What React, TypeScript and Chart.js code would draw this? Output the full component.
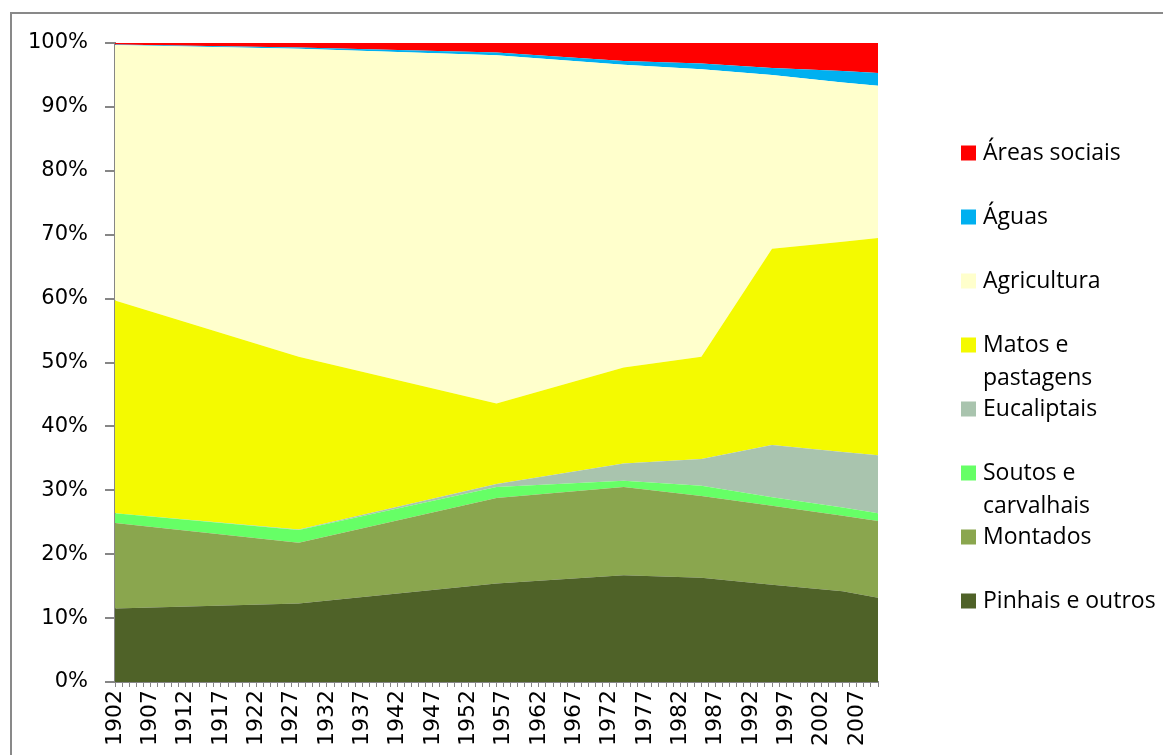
import React, { useEffect, useRef } from 'react';
import { Chart, registerables } from 'chart.js';

Chart.register(...registerables);

// Key years (share of area, %)
const years = [1902, 1928, 1956, 1974, 1985, 1995, 2005, 2010];
const pinhais = [11.5, 12.3, 15.4, 16.7, 16.3, 15.2, 14.2, 13.2];
const montados = [13.4, 9.5, 13.4, 13.8, 12.8, 12.4, 11.8, 12.0];
const soutos = [1.5, 2.0, 1.7, 1.0, 1.6, 1.3, 1.3, 1.2];
const eucaliptais = [0, 0.05, 0.5, 2.7, 4.2, 8.2, 8.7, 9.1];
const matos = [33.3, 27.05, 12.6, 15.0, 16.0, 30.7, 32.9, 34.0];
const agricultura = [40.0, 48.2, 54.5, 47.4, 45.0, 27.2, 24.9, 23.8];
const aguas = [0.05, 0.2, 0.4, 0.6, 0.9, 1.1, 1.8, 2.0];
const sociais = [0.25, 0.7, 1.5, 2.8, 3.2, 3.9, 4.4, 4.7];

const seriesLabels = [
  'Pinhais e outros',
  'Montados',
  'Soutos e carvalhais',
  'Eucaliptais',
  'Matos e pastagens',
  'Agricultura',
  'Águas',
  'Áreas sociais',
];
const legendLines = [
  ['Pinhais e outros'],
  ['Montados'],
  ['Soutos e', 'carvalhais'],
  ['Eucaliptais'],
  ['Matos e', 'pastagens'],
  ['Agricultura'],
  ['Águas'],
  ['Áreas sociais'],
];
const seriesValues = [pinhais, montados, soutos, eucaliptais, matos, agricultura, aguas, sociais];
const seriesColors = ['#4F6228', '#8AA64E', '#66FF66', '#A9C4AE', '#F4FA00', '#FFFFCC', '#00B0F0', '#FF0000'];

const xTickLabels = ['1902', '1907', '1912', '1917', '1922', '1927', '1932', '1937', '1942', '1947', '1952', '1957', '1962', '1967', '1972', '1977', '1982', '1987', '1992', '1997', '2002', '2007'];
const yMin = 0;
const yMax = 100;
const yStep = 10;
const xMin = 1902;
const xMax = 2010;

const AXIS_COLOR = '#868686';

const sideLegend = {
  id: 'sideLegend',
  afterDraw(chart: any) {
    const ctx = chart.ctx;
    const ds = chart.data.datasets;
    ctx.save();
    ctx.font = '23px "Open Sans"';
    ctx.textBaseline = 'middle';
    ctx.textAlign = 'left';
    for (let i = 0; i < ds.length; i++) {
      const idx = ds.length - 1 - i;
      const cy = 153 + 64 * i;
      ctx.fillStyle = ds[idx].backgroundColor;
      ctx.fillRect(961, cy - 7.5, 15, 15);
      ctx.fillStyle = '#000';
      legendLines[idx].forEach((ln: string, j: number) => {
        ctx.fillText(ln, 983, cy + 33 * j);
      });
    }
    ctx.restore();
  },
};

export default function App() {
  const ref = useRef<HTMLCanvasElement | null>(null);

  useEffect(() => {
    if (!ref.current) return;
    const datasets = seriesValues.map((vals, i) => ({
      label: seriesLabels[i],
      data: vals.map((v, k) => ({ x: years[k], y: v })),
      backgroundColor: seriesColors[i],
      borderColor: seriesColors[i],
      borderWidth: 0,
      pointRadius: 0,
      fill: i === 0 ? 'origin' : '-1',
      tension: 0,
    }));

    const chart = new Chart(ref.current, {
      type: 'line',
      data: { datasets },
      plugins: [sideLegend],
      options: {
        animation: false,
        responsive: false,
        maintainAspectRatio: false,
        layout: { padding: { left: 0, top: 43, right: 285, bottom: 0 } },
        plugins: {
          legend: { display: false },
          tooltip: { enabled: false },
          title: { display: false },
        },
        elements: { line: { borderWidth: 0 }, point: { radius: 0 } },
        scales: {
          x: {
            type: 'linear',
            min: xMin,
            max: xMax,
            offset: false,
            grid: {
              display: true,
              drawOnChartArea: false,
              drawTicks: true,
              tickLength: 5,
              color: AXIS_COLOR,
              lineWidth: 1,
            },
            border: { display: true, color: AXIS_COLOR, width: 2 },
            ticks: {
              stepSize: 1,
              autoSkip: false,
              minRotation: 90,
              maxRotation: 90,
              padding: 3,
              color: '#000',
              font: { family: '"DejaVu Sans"', size: 22 },
              callback: (v: any) => (xTickLabels.includes(String(v)) ? String(v) : ''),
            },
            afterFit: (scale: any) => {
              scale.height = 73;
            },
          },
          y: {
            type: 'linear',
            stacked: true,
            min: yMin,
            max: yMax,
            grid: {
              display: true,
              drawOnChartArea: false,
              drawTicks: true,
              tickLength: 10,
              color: AXIS_COLOR,
              lineWidth: 2,
            },
            border: { display: true, color: AXIS_COLOR, width: 2 },
            ticks: {
              stepSize: yStep,
              padding: 17,
              color: '#000',
              font: { family: '"DejaVu Sans"', size: 21 },
              callback: (v: any) => `${v}%`,
            },
            afterFit: (scale: any) => {
              scale.width = 115;
            },
          },
        },
      } as any,
    });
    return () => chart.destroy();
  }, []);

  return (
    <div style={{ position: 'absolute', left: 0, top: 0, width: 1163, height: 755, overflow: 'hidden', background: '#fff' }}>
      <canvas ref={ref} width={1163} height={755} style={{ position: 'absolute', left: 0, top: 0, width: 1163, height: 755 }} />
      <div
        style={{
          position: 'absolute',
          left: 10,
          top: 12,
          width: 1200,
          height: 800,
          border: '2px solid #898989',
          boxSizing: 'border-box',
          pointerEvents: 'none',
        }}
      />
    </div>
  );
}
